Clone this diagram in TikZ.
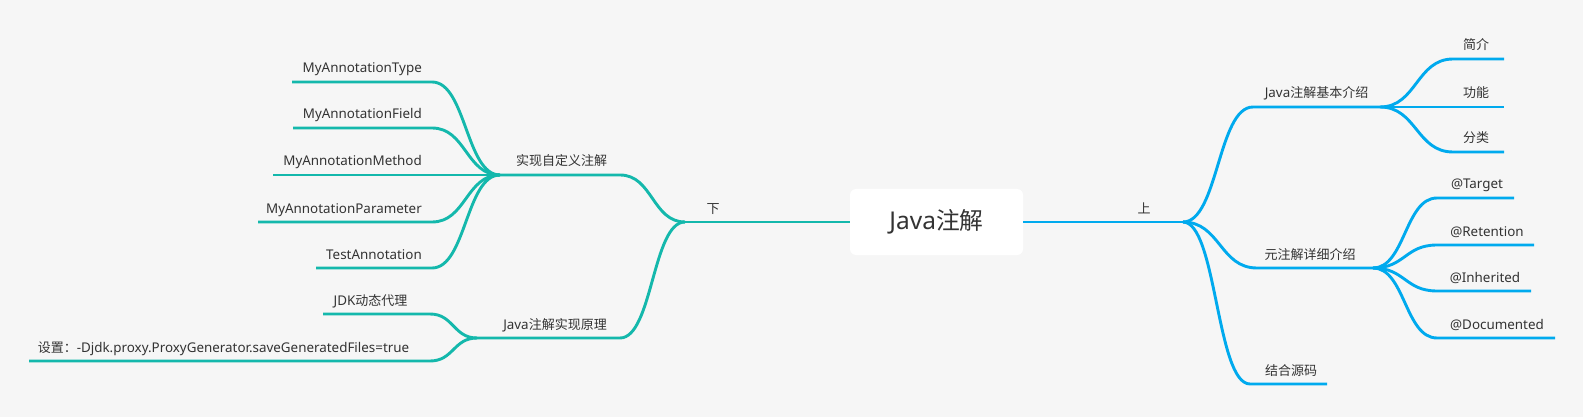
\documentclass[tikz,border=0pt]{standalone}
\usepackage{fontspec}
\setmainfont{Noto Sans}
\newfontfamily\cjk{Noto Sans CJK SC}[Scale=0.97]
\usetikzlibrary{calc}
\definecolor{bg}{HTML}{F6F6F6}
\definecolor{blu}{HTML}{00AAEE}
\definecolor{teal2}{HTML}{14B8AC}
\definecolor{txt}{HTML}{333333}
\begin{document}
\begin{tikzpicture}[x=1pt,y=-1pt,
  bl/.style={draw=blu,line width=2.9pt},
  tl/.style={draw=teal2,line width=2.9pt},
  lab/.style={font=\fontsize{13.4}{15}\selectfont,text=txt,inner sep=0pt,anchor=base},
  labr/.style={lab,anchor=base east},
  curv/.style={to path={let \p1=(\tikztostart), \p2=(\tikztotarget) in .. controls ({(\x1+\x2)/2},\y1) and ({(\x1+\x2)/2},\y2) .. (\tikztotarget)}}]
\fill[bg] (0,0) rectangle (1583,417);
\useasboundingbox (0,0) rectangle (1583,417);

% root
\node[fill=white,rounded corners=6pt,minimum width=173pt,minimum height=66pt,inner sep=0pt,
  font=\fontsize{24.5}{28}\selectfont,text=txt] (root) at (936.5,222) {Java{\cjk 注解}};

% ---------- right side ----------
\coordinate (Rb) at (1183,222);
\coordinate (A1s) at (1253,107); \coordinate (A1e) at (1380,107);
\coordinate (A2s) at (1257,268); \coordinate (A2e) at (1373,268);
\coordinate (A3s) at (1250,384); \coordinate (A3e) at (1327,384);
\coordinate (B1s) at (1453,59);  \coordinate (B1e) at (1504,59);
\coordinate (B2s) at (1453,107); \coordinate (B2e) at (1504,107);
\coordinate (B3s) at (1453,152); \coordinate (B3e) at (1504,152);
\coordinate (E1s) at (1437,198); \coordinate (E1e) at (1514,198);
\coordinate (E2s) at (1437,245); \coordinate (E2e) at (1534,245);
\coordinate (E3s) at (1437,291); \coordinate (E3e) at (1531,291);
\coordinate (E4s) at (1437,338); \coordinate (E4e) at (1555,338);

\draw[bl] (root.east) -- (Rb);
\draw[bl] (Rb) to[curv] (A1s) -- (A1e);
\draw[bl] (Rb) to[curv] (A2s) -- (A2e);
\draw[bl] (Rb) to[curv] (A3s) -- (A3e);
\draw[bl] (A1e) to[curv] (B1s) -- (B1e);
\draw[bl] (A1e) -- (B2s) -- (B2e);
\draw[bl] (A1e) to[curv] (B3s) -- (B3e);
\draw[bl] (A2e) to[curv] (E1s) -- (E1e);
\draw[bl] (A2e) to[curv] (E2s) -- (E2e);
\draw[bl] (A2e) to[curv] (E3s) -- (E3e);
\draw[bl] (A2e) to[curv] (E4s) -- (E4e);

\node[lab] (up) at (1144,214) {{\cjk 上}};
\node[lab] (tA1) at (1316.5,98) {Java{\cjk 注解基本介绍}};
\node[lab] (tA2) at (1310,259) {{\cjk 元注解详细介绍}};
\node[lab] (tA3) at (1291,375) {{\cjk 结合源码}};
\node[lab] (tB1) at (1476,50) {{\cjk 简介}};
\node[lab] (tB2) at (1476,98) {{\cjk 功能}};
\node[lab] (tB3) at (1476,143) {{\cjk 分类}};
\node[lab] (tE1) at (1477,189) {@Target};
\node[lab] (tE2) at (1487,236) {@Retention};
\node[lab] (tE3) at (1485,282) {@Inherited};
\node[lab] (tE4) at (1497,329) {@Documented};

% ---------- left side ----------
\coordinate (Lb) at (685,222);
\coordinate (L1e) at (620,175); \coordinate (L1s) at (500,175);
\coordinate (L2e) at (620,338); \coordinate (L2s) at (477,338);
\coordinate (C1e) at (432,82);  \coordinate (C1s) at (292,82);
\coordinate (C2e) at (432,128); \coordinate (C2s) at (293,128);
\coordinate (C3e) at (432,175); \coordinate (C3s) at (273,175);
\coordinate (C4e) at (432,222); \coordinate (C4s) at (258,222);
\coordinate (C5e) at (432,268); \coordinate (C5s) at (316,268);
\coordinate (D1e) at (430,314); \coordinate (D1s) at (323,314);
\coordinate (D2e) at (430,361); \coordinate (D2s) at (29,361);

\draw[tl] (root.west) -- (Lb);
\draw[tl] (Lb) to[curv] (L1e) -- (L1s);
\draw[tl] (Lb) to[curv] (L2e) -- (L2s);
\draw[tl] (L1s) to[curv] (C1e) -- (C1s);
\draw[tl] (L1s) to[curv] (C2e) -- (C2s);
\draw[tl] (L1s) -- (C3e) -- (C3s);
\draw[tl] (L1s) to[curv] (C4e) -- (C4s);
\draw[tl] (L1s) to[curv] (C5e) -- (C5s);
\draw[tl] (L2s) to[curv] (D1e) -- (D1s);
\draw[tl] (L2s) to[curv] (D2e) -- (D2s);

\node[lab] (down) at (713,213) {{\cjk 下}};
\node[lab] (tL1) at (561.5,166) {{\cjk 实现自定义注解}};
\node[lab] (tL2) at (555,329) {Java{\cjk 注解实现原理}};
\node[labr] (tC1) at (422,73) {MyAnnotationType};
\node[labr] (tC2) at (422,119) {MyAnnotationField};
\node[labr] (tC3) at (422,166) {MyAnnotationMethod};
\node[labr] (tC4) at (422,213) {MyAnnotationParameter};
\node[labr] (tC5) at (422,259) {TestAnnotation};
\node[lab] (tD1) at (370.5,305) {JDK{\cjk 动态代理}};
\node[lab] (tD2) at (223.5,352) {{\cjk 设置：}-Djdk.proxy.ProxyGenerator.saveGeneratedFiles=true};
\end{tikzpicture}
\end{document}
